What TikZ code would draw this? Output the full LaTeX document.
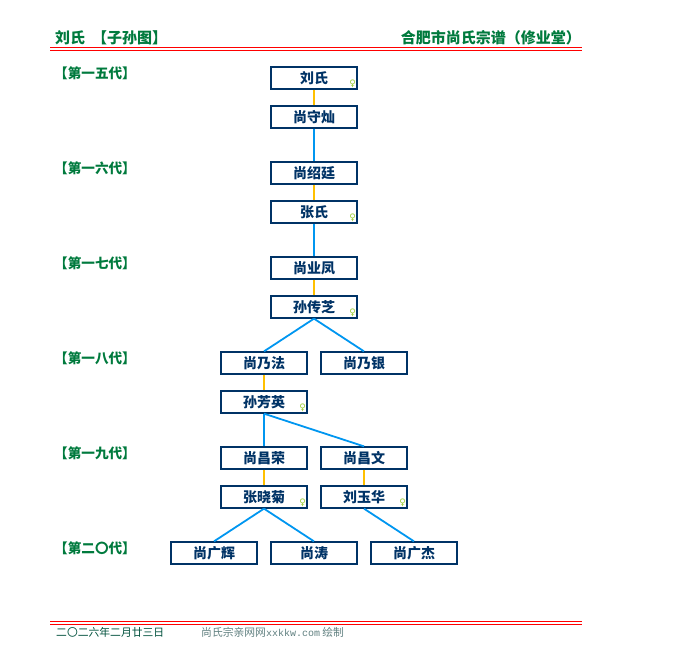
\documentclass[tikz,border=0pt]{standalone}
\usepackage{fontspec}
\setmainfont{Noto Sans CJK SC}
\newfontfamily\cjk{Noto Sans CJK SC}
\newfontfamily\symf{DejaVu Sans}
\newfontfamily\monof{Liberation Mono}
\definecolor{hdgreen}{RGB}{0,122,61}
\definecolor{boxnavy}{RGB}{0,51,102}
\definecolor{kidblue}{RGB}{0,150,240}
\definecolor{wedyellow}{RGB}{255,192,0}
\definecolor{femgreen}{RGB}{153,204,51}
\definecolor{footgreen}{RGB}{0,80,60}
\definecolor{footgrey}{RGB}{95,127,127}
\tikzset{
  person/.style={draw=boxnavy, line width=1.3pt, fill=white, minimum width=86pt, minimum height=22pt, inner sep=0pt, text=boxnavy, font=\cjk\bfseries\fontsize{14}{14}\selectfont},
  genlabel/.style={anchor=west, inner sep=0pt, text=hdgreen, font=\cjk\bfseries\fontsize{13.6}{14}\selectfont},
  headtext/.style={inner sep=0pt, text=hdgreen, font=\cjk\bfseries\fontsize{15}{15}\selectfont},
  femmark/.style={inner sep=0pt, text=femgreen, font=\symf\fontsize{9}{9}\selectfont},
  kid/.style={draw=kidblue, line width=1.8pt},
  wed/.style={draw=wedyellow, line width=1.8pt},
  redrule/.style={draw=red, line width=1pt}
}
\begin{document}
\begin{tikzpicture}[x=1pt, y=-1pt]
\useasboundingbox (0,0) rectangle (680,670);
\node[headtext, anchor=west] (hl) at (55, 37.5) {刘氏\hspace{7pt}【子孙图】};
\node[headtext, anchor=east] (hr) at (581, 37.5) {合肥市尚氏宗谱（修业堂）};
\coordinate (r1a) at (50, 47.5);
\coordinate (r1b) at (582, 47.5);
\coordinate (r2a) at (50, 50.5);
\coordinate (r2b) at (582, 50.5);
\draw[redrule] (r1a) -- (r1b);
\draw[redrule] (r2a) -- (r2b);
\node[genlabel] (g15) at (54, 73.5) {【第一五代】};
\node[genlabel] (g16) at (54, 168.5) {【第一六代】};
\node[genlabel] (g17) at (54, 263.5) {【第一七代】};
\node[genlabel] (g18) at (54, 358.5) {【第一八代】};
\node[genlabel] (g19) at (54, 453.5) {【第一九代】};
\node[genlabel] (g20) at (54, 548.5) {【第二〇代】};
\node[person] (liushi) at (314, 78) {刘氏};
\node[person] (shousan) at (314, 117) {尚守灿};
\node[person] (shaoting) at (314, 173) {尚绍廷};
\node[person] (zhangshi) at (314, 212) {张氏};
\node[person] (yefeng) at (314, 268) {尚业凤};
\node[person] (chuanzhi) at (314, 307) {孙传芝};
\node[person] (naifa) at (264, 363) {尚乃法};
\node[person] (naiyin) at (364, 363) {尚乃银};
\node[person] (fangying) at (264, 402) {孙芳英};
\node[person] (changrong) at (264, 458) {尚昌荣};
\node[person] (changwen) at (364, 458) {尚昌文};
\node[person] (xiaoju) at (264, 497) {张晓菊};
\node[person] (yuhua) at (364, 497) {刘玉华};
\node[person] (guanghui) at (214, 553) {尚广辉};
\node[person] (tao) at (314, 553) {尚涛};
\node[person] (guangjie) at (414, 553) {尚广杰};
\node[femmark] (f1) at ([xshift=-5pt, yshift=5.5pt]liushi.south east) {♀};
\node[femmark] (f2) at ([xshift=-5pt, yshift=5.5pt]zhangshi.south east) {♀};
\node[femmark] (f3) at ([xshift=-5pt, yshift=5.5pt]chuanzhi.south east) {♀};
\node[femmark] (f4) at ([xshift=-5pt, yshift=5.5pt]fangying.south east) {♀};
\node[femmark] (f5) at ([xshift=-5pt, yshift=5.5pt]xiaoju.south east) {♀};
\node[femmark] (f6) at ([xshift=-5pt, yshift=5.5pt]yuhua.south east) {♀};
\draw[wed] (liushi) -- (shousan);
\draw[kid] (shousan) -- (shaoting);
\draw[wed] (shaoting) -- (zhangshi);
\draw[kid] (zhangshi) -- (yefeng);
\draw[wed] (yefeng) -- (chuanzhi);
\draw[kid] (chuanzhi.south) -- (naifa.north);
\draw[kid] (chuanzhi.south) -- (naiyin.north);
\draw[wed] (naifa) -- (fangying);
\draw[kid] (fangying.south) -- (changrong.north);
\draw[kid] (fangying.south) -- (changwen.north);
\draw[wed] (changrong) -- (xiaoju);
\draw[wed] (changwen) -- (yuhua);
\draw[kid] (xiaoju.south) -- (guanghui.north);
\draw[kid] (xiaoju.south) -- (tao.north);
\draw[kid] (yuhua.south) -- (guangjie.north);
\coordinate (r3a) at (50, 621);
\coordinate (r3b) at (582, 621);
\coordinate (r4a) at (50, 624);
\coordinate (r4b) at (582, 624);
\draw[redrule] (r3a) -- (r3b);
\draw[redrule] (r4a) -- (r4b);
\node[anchor=west, inner sep=0pt, text=footgreen, font=\cjk\fontsize{10.8}{11}\selectfont] (date) at (56, 632.5) {二〇二六年二月廿三日};
\node[anchor=west, inner sep=0pt, text=footgrey, font=\cjk\fontsize{10.8}{11}\selectfont] (credit) at (201, 632.5) {尚氏宗亲网网{\monof\fontsize{10}{11}\selectfont xxkkw.com} 绘制};
\end{tikzpicture}
\end{document}
